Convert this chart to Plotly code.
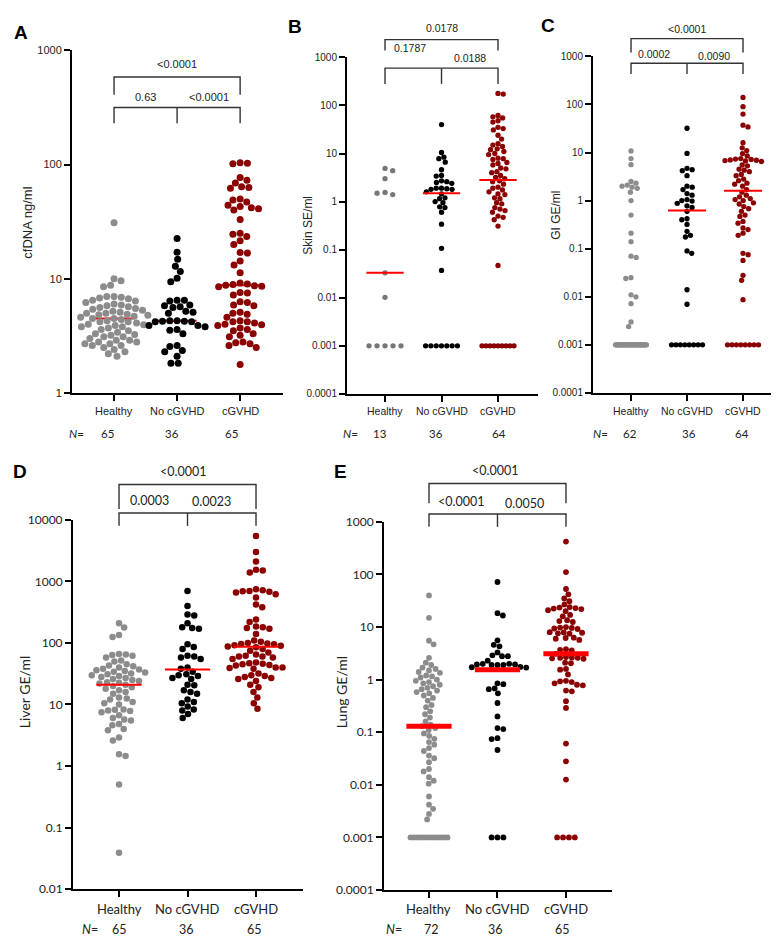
import numpy as np
import plotly.graph_objects as go

W, H = 779, 952
CATS = ["Healthy", "No cGVHD", "cGVHD"]

# ---------------- data ----------------
A_healthy = [31, 10.0, 9.6, 8.8, 8.5, 7.0, 7.0, 6.9, 6.8, 6.7, 6.5, 6.4, 6.2, 6.0, 5.9, 5.8, 5.6, 5.5, 5.4, 5.3,
             5.2, 5.1, 5.0, 5.0, 4.9, 4.8, 4.7, 4.6, 4.5, 4.5, 4.4, 4.3, 4.2, 4.2, 4.1, 4.0, 3.9, 3.8, 3.8, 3.7,
             3.6, 3.5, 3.4, 3.3, 3.2, 3.1, 3.1, 3.0, 2.9, 2.9, 2.8, 2.8, 2.7, 2.7, 2.6, 2.6, 2.5, 2.4, 2.3, 2.2,
             2.1, 5.7, 4.85, 3.95, 3.25]
A_nocgvhd = [22.5, 17.1, 14.8, 12.9, 11.6, 10.1, 9.4, 6.5, 6.5, 6.4, 5.9, 5.8, 5.7, 5.6, 5.2, 5.1, 5.0, 4.3,
             4.3, 4.25, 4.25, 4.2, 4.2, 3.9, 3.9, 3.8, 3.6, 3.55, 3.3, 2.6, 2.55, 2.35, 2.3, 2.1, 1.82, 1.82]
A_cgvhd = [104, 103, 102, 77, 73, 69, 64, 63, 62, 50, 49, 47, 44, 43, 42, 41, 40, 33, 25, 24.5, 23.5, 21.5, 20,
           17, 16.8, 14.3, 13.2, 11.3, 9.2, 9.0, 8.9, 8.8, 8.7, 8.6, 7.6, 7.5, 7.2, 6.3, 6.2, 5.9, 5.8, 5.1, 5.0,
           4.9, 4.6, 4.3, 4.2, 4.2, 4.1, 4.0, 3.95, 3.9, 3.7, 3.6, 3.5, 3.3, 3.2, 3.1, 2.8, 2.75, 2.7, 2.6, 2.5,
           1.78, 8.5]
A_medians = [4.5, 4.3, 8.8]
A_n = ["65", "36", "65"]
A_p = ["<0.0001", "0.63", "<0.0001"]

B_healthy = [4.9, 4.4, 3.0, 1.5, 1.4, 1.55, 0.033, 0.0102, 0.001, 0.001, 0.001, 0.001, 0.001]
B_nocgvhd = [40, 10.5, 8.4, 7.8, 6.6, 4.6, 3.5, 3.4, 2.7, 2.6, 2.5, 2.4, 1.9, 1.9, 1.85, 1.8, 1.8, 1.6, 1.45,
             1.2, 1.15, 1.0, 0.95, 0.78, 0.75, 0.6, 0.34, 0.107, 0.037,
             0.001, 0.001, 0.001, 0.001, 0.001, 0.001, 0.001]
B_cgvhd = [178, 172, 62, 58, 55, 48, 45, 35, 33, 31, 24, 20, 16, 15, 14, 12.5, 12, 11, 10, 9.5, 8, 7.8, 7.5,
           6.5, 6.2, 5.8, 5, 4.8, 4.2, 4, 3.5, 3.2, 3, 2.7, 2.6, 2.3, 2.0, 1.9, 1.75, 1.6, 1.45, 1.4, 1.2, 1.15,
           0.95, 0.9, 0.75, 0.7, 0.65, 0.6, 0.5, 0.47, 0.42, 0.31, 0.047,
           0.001, 0.001, 0.001, 0.001, 0.001, 0.001, 0.001, 0.001, 0.001]
B_medians = [0.033, 1.5, 2.8]
B_n = ["13", "36", "64"]
B_p = ["0.0178", "0.1787", "0.0188"]

C_healthy = [10.8, 7.5, 5.6, 2.5, 2.3, 2.1, 2.0, 1.9, 1.8, 1.5, 1.0, 0.5, 0.21, 0.14, 0.07, 0.066, 0.025, 0.024,
             0.011, 0.010, 0.0072, 0.003, 0.0024] + [0.001] * 39
C_nocgvhd = [32, 9.6, 4.7, 4.4, 4.2, 3.3, 2.0, 1.9, 1.7, 1.4, 1.3, 1.05, 1.0, 0.98, 0.88, 0.78, 0.72, 0.6, 0.42,
             0.4, 0.32, 0.23, 0.19, 0.175, 0.09, 0.08, 0.014, 0.007] + [0.001] * 8
C_cgvhd = [140, 90, 63, 37, 34, 16, 12.5, 11, 9.5, 8.5, 7.5, 7.3, 7.2, 7.0, 6.9, 6.8, 6.7, 6.5, 5.5, 5.3, 4.5,
           4.3, 4.0, 3.5, 3.3, 2.8, 2.6, 2.3, 2.2, 2.0, 1.7, 1.5, 1.3, 1.2, 1.1, 1.05, 1.0, 0.9, 0.85, 0.75,
           0.68, 0.6, 0.5, 0.47, 0.37, 0.34, 0.27, 0.25, 0.21, 0.19, 0.08, 0.075, 0.057, 0.028, 0.022,
           0.0087] + [0.001] * 8
C_medians = [None, 0.62, 1.6]
C_n = ["62", "36", "64"]
C_p = ["<0.0001", "0.0002", "0.0090"]

D_healthy = [210, 178, 135, 125, 66, 65, 64, 62, 58, 52, 50, 45, 43, 42, 40, 38, 37, 36, 35, 34, 33, 32, 31, 30,
             29, 28, 27, 26, 25, 24, 23, 22.5, 22, 21, 20, 19, 18, 17, 16, 15, 13, 12.5, 12, 11, 10.5, 10, 8.3,
             8.2, 8.0, 7.8, 7.5, 6.7, 6.0, 5.7, 5.5, 4.8, 4.6, 4.0, 3.8, 2.9, 2.6, 1.55, 1.45, 0.5, 0.039]
D_nocgvhd = [700, 400, 290, 280, 210, 180, 175, 170, 95, 86, 80, 62, 60, 58, 55, 40, 38, 34, 31, 30, 29, 27,
             26, 21, 20.5, 17, 16, 15, 12, 11, 10.5, 9.3, 8.3, 8.0, 7.0, 6.0]
D_cgvhd = [5500, 3000, 2100, 1550, 1500, 1400, 750, 720, 700, 690, 680, 660, 620, 550, 420, 380, 240, 220, 185,
           180, 175, 170, 140, 110, 105, 100, 98, 96, 95, 92, 90, 88, 85, 80, 75, 70, 65, 62, 60, 60, 58, 55,
           48, 47, 46, 45, 44, 43, 40, 40, 39, 38, 32, 30, 29, 28, 27, 26, 24, 21, 19, 16, 13, 10.5, 8.5]
D_medians = [21, 37, 87]
D_n = ["65", "36", "65"]
D_p = ["<0.0001", "0.0003", "0.0023"]

E_healthy = [40, 15, 5.5, 4.7, 2.6, 2.1, 1.9, 1.7, 1.6, 1.5, 1.4, 1.35, 1.2, 1.15, 1.1, 1.0, 0.95, 0.9, 0.85,
             0.8, 0.75, 0.7, 0.66, 0.62, 0.58, 0.55, 0.5, 0.45, 0.4, 0.33, 0.3, 0.25, 0.22, 0.19, 0.16, 0.14,
             0.13, 0.12, 0.11, 0.095, 0.085, 0.075, 0.065, 0.058, 0.05, 0.044, 0.036, 0.032, 0.027, 0.02, 0.018,
             0.014, 0.012, 0.0105, 0.006, 0.0042, 0.0035, 0.0028, 0.0022] + [0.001] * 13
E_nocgvhd = [72, 18.4, 16.6, 5.6, 4.6, 4.3, 3.3, 2.9, 2.8, 2.8, 2.3, 2.0, 2.0, 1.95, 1.95, 1.9, 1.9, 1.9, 1.75,
             1.72, 1.7, 0.85, 0.82, 0.68, 0.66, 0.55, 0.36, 0.2, 0.12, 0.115, 0.077, 0.074, 0.046] + [0.001] * 3
E_cgvhd = [423, 111, 53, 42, 35, 31, 27, 24, 23.5, 23, 22.5, 22, 21, 20, 17, 16, 13.5, 13, 12.5, 10, 9.8, 9.6,
           9.4, 9.2, 8.0, 7.9, 7.8, 7.6, 7.5, 6.3, 6.2, 6.0, 5.7, 3.8, 3.7, 3.6, 3.1, 2.7, 2.65, 2.6, 2.6, 2.55,
           2.5, 2.1, 2.05, 1.6, 1.55, 1.26, 0.95, 0.93, 0.9, 0.85, 0.8, 0.78, 0.62, 0.6, 0.39, 0.29, 0.061,
           0.028, 0.0126] + [0.001] * 4
E_medians = [0.13, 1.55, 3.1]
E_n = ["72", "36", "65"]
E_p = ["<0.0001", "<0.0001", "0.0050"]

# ---------------- styling / layout ----------------
GRAY, BLACK, DRED, RED = "#8c8c8c", "#000000", "#8b0000", "#ff0000"
F1 = "Liberation Sans, Arial, sans-serif"
F2 = "Lato, Liberation Sans, sans-serif"

panels = [
    dict(letter="A", lpos=(13, 17), title="cfDNA ng/ml", tpos=(20, 210),
         groups=[A_healthy, A_nocgvhd, A_cgvhd], med=A_medians, n=A_n, p=A_p,
         dx=(64, 275), dy=(35, 383), xr=(-0.667, 2.68), yr=(0, 3),
         ms=7, spacing=[7.3, 7.3, 7.3], cap=40, medw=2, medhalf=0.31, med_on_top=False,
         gray=GRAY, font=F1, fs_tick=11, fs_cat=11, fs_title=13, fs_p=11, fs_n=11.5,
         br=(62, 80, 93, 109), ptxt=[(1, 49), (0.5, 82), (1.5, 82)],
         ny=424, npos=[68, 99, 164, 223], cat_y=401),
    dict(letter="B", lpos=(287, 11), title="Skin SE/ml", tpos=(300, 213),
         groups=[B_healthy, B_nocgvhd, B_cgvhd], med=B_medians, n=B_n, p=B_p,
         dx=(339, 530), dy=(42, 384), xr=(-0.673, 2.708), yr=(-4, 3),
         ms=5.3, spacing=[8, 5.3, 5.3], cap=32, medw=2, medhalf=0.33, med_on_top=True,
         gray="#777777", font=F1, fs_tick=10, fs_cat=10.5, fs_title=12, fs_p=10.5, fs_n=11.5,
         br=(24, 35, 53, 69), ptxt=[(1, 12), (0.44, 33), (1.5, 43)],
         ny=424, npos=[342, 372, 428, 491], cat_y=401),
    dict(letter="C", lpos=(540, 10), title="GI GE/ml", tpos=(548, 203),
         groups=[C_healthy, C_nocgvhd, C_cgvhd], med=C_medians, n=C_n, p=C_p,
         dx=(585, 776), dy=(41, 383), xr=(-0.679, 2.732), yr=(-4, 3),
         ms=5.3, spacing=[5.3, 5.3, 5.3], cap=31, medw=2, medhalf=0.34, med_on_top=True,
         gray=GRAY, font=F1, fs_tick=10, fs_cat=10.5, fs_title=12, fs_p=10.5, fs_n=11.5,
         br=(23, 37, 48, 59), ptxt=[(1, 13), (0.41, 39), (1.48, 41)],
         ny=424, npos=[592, 622, 681, 734], cat_y=401),
    dict(letter="D", lpos=(12, 463), title="Liver GE/ml", tpos=(16, 687),
         groups=[D_healthy, D_nocgvhd, D_cgvhd], med=D_medians, n=D_n, p=D_p,
         dx=(65, 295), dy=(512, 887), xr=(-0.672, 2.686), yr=(-2, 4),
         ms=6.5, spacing=[6.8, 6.8, 6.8], cap=40, medw=2, medhalf=0.33, med_on_top=True,
         gray=GRAY, font=F2, fs_tick=12, fs_cat=13, fs_title=14, fs_p=12.5, fs_n=12.5,
         br=(476, 501, 505, 518), ptxt=[(0.93, 463), (0.44, 492), (1.35, 493)],
         ny=928, npos=[82, 111, 178, 246], cat_y=907),
    dict(letter="E", lpos=(332, 463), title="Lung GE/ml", tpos=(333, 687),
         groups=[E_healthy, E_nocgvhd, E_cgvhd], med=E_medians, n=E_n, p=E_p,
         dx=(376, 604), dy=(514, 888), xr=(-0.657, 2.672), yr=(-4, 3),
         ms=5.8, spacing=[5.9, 5.9, 5.9], cap=37, medw=5, medhalf=0.33, med_on_top=True,
         gray=GRAY, font=F2, fs_tick=12, fs_cat=13, fs_title=14, fs_p=12.5, fs_n=12.5,
         br=(475, 495, 506, 519), ptxt=[(0.97, 462), (0.47, 493), (1.4, 495)],
         ny=928, npos=[386, 423, 487, 554], cat_y=907),
]


def swarm(vals, px_per_dec, d, cap):
    vals = np.asarray(vals, float)
    y = np.log10(vals) * px_per_dec
    xs = np.full(len(vals), np.nan)
    placed = []
    uniq, counts = np.unique(vals, return_counts=True)
    for u, c in zip(uniq, counts):
        if c >= 3:
            idx = np.where(vals == u)[0]
            s = d if (c - 1) * d <= cap else cap / (c - 1)
            for k, i in enumerate(idx):
                xs[i] = (k - (c - 1) / 2) * s
                placed.append((xs[i], y[i]))
    side = 1
    for i in np.argsort(-y, kind="stable"):
        if not np.isnan(xs[i]):
            continue
        cands = [0.0]
        for (qx, qy) in placed:
            dyy = abs(y[i] - qy)
            if dyy < d:
                ddx = np.sqrt(d * d - dyy * dyy)
                cands += [qx + ddx, qx - ddx]
        best = 0.0
        for c in sorted(cands, key=lambda v: (round(abs(v), 6), -side * v)):
            if all((c - qx) ** 2 + (y[i] - qy) ** 2 >= d * d - 1e-6 for qx, qy in placed):
                best = c
                break
        if best != 0:
            side = -side
        xs[i] = best
        placed.append((best, y[i]))
    return xs


def fx(px):
    return px / W


def fy(py):
    return 1 - py / H


fig = go.Figure()
layout = dict(width=W, height=H, margin=dict(l=0, r=0, t=0, b=0), autosize=False,
              paper_bgcolor="white", plot_bgcolor="white", showlegend=False)
shapes, annots = [], []
TICKLBL = {-4: "0.0001", -3: "0.001", -2: "0.01", -1: "0.1", 0: "1", 1: "10", 2: "100", 3: "1000", 4: "10000"}

for k, P in enumerate(panels):
    s = "" if k == 0 else str(k + 1)
    xa, ya = "x" + s, "y" + s
    wpx = P["dx"][1] - P["dx"][0]
    hpx = P["dy"][1] - P["dy"][0]
    ux = wpx / (P["xr"][1] - P["xr"][0])
    udec = hpx / (P["yr"][1] - P["yr"][0])
    colors = [P["gray"], BLACK, DRED]

    def cat_px(c, P=P, ux=ux):
        return P["dx"][0] + (c - P["xr"][0]) * ux

    med_traces = []
    for gi, m in enumerate(P["med"]):
        if m is None:
            continue
        med_traces.append(go.Scatter(x=[gi - P["medhalf"], gi + P["medhalf"]], y=[m, m], mode="lines",
                                     line=dict(color=RED, width=P["medw"]), xaxis=xa, yaxis=ya,
                                     hoverinfo="skip"))
    if not P["med_on_top"]:
        for t in med_traces:
            fig.add_trace(t)
    for gi, vals in enumerate(P["groups"]):
        off = swarm(vals, udec, P["spacing"][gi], P["cap"]) / ux
        fig.add_trace(go.Scatter(x=gi + off, y=vals, mode="markers",
                                 marker=dict(size=P["ms"], color=colors[gi], line=dict(width=0)),
                                 xaxis=xa, yaxis=ya, hoverinfo="skip"))
    if P["med_on_top"]:
        for t in med_traces:
            fig.add_trace(t)

    decs = list(range(P["yr"][0], P["yr"][1] + 1))
    layout["xaxis" + s] = dict(domain=[fx(P["dx"][0]), fx(P["dx"][1])], range=list(P["xr"]), anchor=ya,
                               tickvals=[0, 1, 2], ticktext=CATS, showline=True, linecolor="black",
                               linewidth=2, ticks="outside", ticklen=6, tickwidth=2, tickcolor="black",
                               showgrid=False, zeroline=False, fixedrange=True, showticklabels=False)
    layout["yaxis" + s] = dict(domain=[fy(P["dy"][1]), fy(P["dy"][0])], type="log", range=list(P["yr"]),
                               anchor=xa, tickvals=[10.0 ** e for e in decs],
                               ticktext=[TICKLBL[e] for e in decs], showline=True, linecolor="black",
                               linewidth=2, ticks="outside", ticklen=6, tickwidth=2, tickcolor="black",
                               showgrid=False, zeroline=False, fixedrange=True,
                               tickfont=dict(family=P["font"], size=P["fs_tick"], color="#222"))

    # category labels
    for gi, c in enumerate(CATS):
        annots.append(dict(x=fx(cat_px(gi)), y=fy(P["cat_y"]), xref="paper", yref="paper", text=c,
                           showarrow=False, xanchor="center", yanchor="middle",
                           font=dict(family=P["font"], size=P["fs_cat"], color="#222")))
    # N row
    annots.append(dict(x=fx(P["npos"][0]), y=fy(P["ny"]), xref="paper", yref="paper", text="<i>N</i>=",
                       showarrow=False, xanchor="center", yanchor="middle",
                       font=dict(family=F2, size=P["fs_n"], color="#222")))
    for j in range(3):
        annots.append(dict(x=fx(P["npos"][j + 1]), y=fy(P["ny"]), xref="paper", yref="paper", text=P["n"][j],
                           showarrow=False, xanchor="center", yanchor="middle",
                           font=dict(family=F2, size=P["fs_n"], color="#222")))
    # panel letter
    annots.append(dict(x=fx(P["lpos"][0]), y=fy(P["lpos"][1]), xref="paper", yref="paper",
                       text="<b>" + P["letter"] + "</b>", showarrow=False, xanchor="center", yanchor="middle",
                       font=dict(family="Liberation Sans, Arial, sans-serif", size=19, color="black")))
    # y title
    annots.append(dict(x=fx(P["tpos"][0]), y=fy(P["tpos"][1]), xref="paper", yref="paper", text=P["title"],
                       showarrow=False, textangle=-90, xanchor="center", yanchor="middle",
                       font=dict(family=P["font"], size=P["fs_title"], color="#222")))
    # brackets
    x0, x1, x2 = fx(cat_px(0)), fx(cat_px(1)), fx(cat_px(2))
    ty, te, ly, le = [fy(v) for v in P["br"]]
    lc = dict(color="#333333", width=1.4)
    shapes.append(dict(type="path", xref="paper", yref="paper",
                       path=f"M {x0},{te} L {x0},{ty} L {x2},{ty} L {x2},{te}", line=lc))
    shapes.append(dict(type="path", xref="paper", yref="paper",
                       path=f"M {x0},{le} L {x0},{ly} L {x2},{ly} L {x2},{le}", line=lc))
    shapes.append(dict(type="line", xref="paper", yref="paper", x0=x1, x1=x1, y0=ly, y1=le, line=lc))
    for j, (cx, py) in enumerate(P["ptxt"]):
        annots.append(dict(x=fx(cat_px(cx)), y=fy(py), xref="paper", yref="paper", text=P["p"][j],
                           showarrow=False, xanchor="center", yanchor="middle",
                           font=dict(family=P["font"], size=P["fs_p"], color="#222")))

layout["shapes"] = shapes
layout["annotations"] = annots
fig.update_layout(**layout)
fig.write_html("out.html")
